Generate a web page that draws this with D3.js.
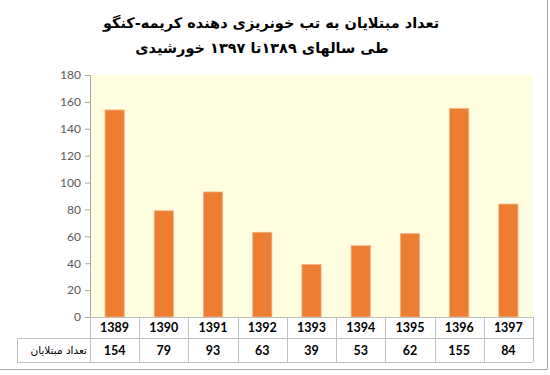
<!DOCTYPE html>
<html>
<head>
<meta charset="utf-8">
<script src="https://cdn.jsdelivr.net/npm/d3@7"></script>
<style>
  body { margin: 0; background: #fff; }
  svg { display: block; }
</style>
</head>
<body>
<div id="chart"></div>
<script>
// data
const years = ["1389", "1390", "1391", "1392", "1393", "1394", "1395", "1396", "1397"];
const cases = [154, 79, 93, 63, 39, 53, 62, 155, 84];
const yTicks = [0, 20, 40, 60, 80, 100, 120, 140, 160, 180];
const titleLines = ["تعداد مبتلایان به تب خونریزی دهنده کریمه-کنگو", "طی سالهای ۱۳۸۹تا  ۱۳۹۷ خورشیدی"];
const rowLabel = "تعداد مبتلایان";

const W = 550, H = 375;
const plot = { left: 90, right: 533, top: 75, bottom: 317 };
const rowH = [21, 24];
const labelLeft = 17;

const svg = d3.select("#chart").append("svg")
    .attr("width", W)
    .attr("height", H);

// chart frame (only right and bottom edges are inside the picture)
svg.append("line")
    .attr("x1", 0).attr("x2", 547.5).attr("y1", 369.5).attr("y2", 369.5)
    .attr("stroke", "#a6a6a6");
svg.append("line")
    .attr("x1", 547.5).attr("x2", 547.5).attr("y1", 0).attr("y2", 369.5)
    .attr("stroke", "#a6a6a6");

// title
svg.selectAll("text.title")
    .data(titleLines)
    .join("text")
    .attr("class", "title")
    .attr("x", (d, i) => i ? 262 : 271)
    .attr("y", (d, i) => 28 + i * 25)
    .attr("text-anchor", "middle")
    .attr("direction", "rtl")
    .style("font-family", "DejaVu Sans")
    .style("font-weight", "bold")
    .style("font-size", "14.5px")
    .attr("fill", "#000")
    .text(d => d);

// scales
const col = d3.scaleBand()
    .domain(years)
    .range([plot.left, plot.right]);

const x = d3.scaleBand()
    .domain(years)
    .range([plot.left, plot.right])
    .paddingInner(0.61)
    .paddingOuter(0.305);

const y = d3.scaleLinear()
    .domain([0, 180])
    .range([plot.bottom, plot.top]);

// plot background
svg.append("rect")
    .attr("x", plot.left)
    .attr("y", plot.top)
    .attr("width", plot.right - plot.left)
    .attr("height", plot.bottom - plot.top)
    .attr("fill", "#fffde0");

// bars
svg.selectAll("rect.bar")
    .data(cases)
    .join("rect")
    .attr("class", "bar")
    .attr("x", (d, i) => x(years[i]))
    .attr("y", d => y(d))
    .attr("width", x.bandwidth())
    .attr("height", d => y(0) - y(d))
    .attr("fill", "#ed7d31")
    .attr("stroke", "#f4b183")
    .attr("stroke-width", 0.8);

// y axis
const yAxis = svg.append("g")
    .attr("transform", "translate(" + plot.left + ",0)")
    .call(d3.axisLeft(y).tickValues(yTicks).tickSize(5).tickPadding(4));
yAxis.select(".domain").attr("stroke", "#a6a6a6");
yAxis.selectAll(".tick line").attr("stroke", "#a6a6a6");
yAxis.selectAll(".tick text")
    .style("font-family", "Lato")
    .style("font-size", "12px")
    .attr("fill", "#595959");

// data table
const table = svg.append("g");
const gridColor = "#bfbfbf";
const y0 = plot.bottom, y1 = y0 + rowH[0], y2 = y1 + rowH[1];

// horizontal lines
table.append("line")
    .attr("x1", plot.left).attr("x2", plot.right).attr("y1", y0 + 0.5).attr("y2", y0 + 0.5)
    .attr("stroke", gridColor);
[y1, y2].forEach(yy => {
    table.append("line")
        .attr("x1", labelLeft).attr("x2", plot.right).attr("y1", yy + 0.5).attr("y2", yy + 0.5)
        .attr("stroke", gridColor);
});

// vertical lines
const edges = years.map(d => col(d)).concat([plot.right]);
table.selectAll("line.v")
    .data(edges)
    .join("line")
    .attr("class", "v")
    .attr("x1", d => Math.round(d) + 0.5)
    .attr("x2", d => Math.round(d) + 0.5)
    .attr("y1", y0)
    .attr("y2", y2)
    .attr("stroke", gridColor);
table.append("line")
    .attr("x1", labelLeft + 0.5).attr("x2", labelLeft + 0.5).attr("y1", y1).attr("y2", y2)
    .attr("stroke", gridColor);

// year headers
table.selectAll("text.year")
    .data(years)
    .join("text")
    .attr("class", "year")
    .attr("x", d => col(d) + col.bandwidth() / 2)
    .attr("y", y0 + 15)
    .attr("text-anchor", "middle")
    .style("font-family", "Lato")
    .style("font-weight", "bold")
    .style("font-size", "12.5px")
    .attr("fill", "#000")
    .text(d => d);

// values
table.selectAll("text.val")
    .data(cases)
    .join("text")
    .attr("class", "val")
    .attr("x", (d, i) => col(years[i]) + col.bandwidth() / 2)
    .attr("y", y1 + 16.5)
    .attr("text-anchor", "middle")
    .style("font-family", "Lato")
    .style("font-weight", "bold")
    .style("font-size", "12.5px")
    .attr("fill", "#000")
    .text(d => d);

// row label
table.append("text")
    .attr("x", plot.left - 3)
    .attr("y", y1 + 16)
    .attr("text-anchor", "start")
    .attr("direction", "rtl")
    .style("font-family", "DejaVu Sans")
    .style("font-size", "10.5px")
    .attr("fill", "#000")
    .text(rowLabel);
</script>
</body>
</html>
